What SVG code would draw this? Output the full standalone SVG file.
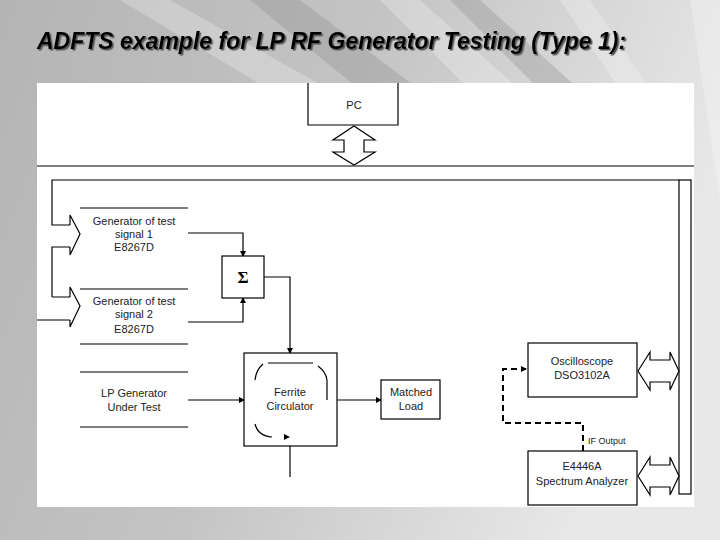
<svg xmlns="http://www.w3.org/2000/svg" width="720" height="540" viewBox="0 0 720 540">
<defs>
<linearGradient id="bg" x1="0" y1="0" x2="1" y2="0.3"><stop offset="0" stop-color="#b4b4b4"/><stop offset="0.5" stop-color="#c4c4c4"/><stop offset="1" stop-color="#e8e8e8"/></linearGradient>
<filter id="sh"><feDropShadow dx="1.5" dy="1.5" stdDeviation="0.5" flood-color="#555"/></filter>
<marker id="ar" markerWidth="6" markerHeight="6" refX="5" refY="3" orient="auto" markerUnits="userSpaceOnUse"><path d="M0,0 L6,3 L0,6 z" fill="#000"/></marker>
<style>
.l{fill:none;stroke:#000;stroke-width:1.2}
.b{fill:#fff;stroke:#000;stroke-width:1.2}
.t{font-family:"Liberation Sans",Arial,sans-serif;font-size:11px;fill:#222;text-anchor:middle}
</style>
</defs>
<rect width="720" height="540" fill="url(#bg)"/>
<g fill="#fff" opacity="0.25">
<polygon points="120,0 170,0 330,90 270,90"/><polygon points="380,0 420,0 520,90 470,90"/><polygon points="560,0 590,0 650,90 620,90"/><polygon points="690,0 720,0 720,200"/>
</g>
<g fill="#888" opacity="0.3"><polygon points="250,0 300,0 420,90 360,90"/><polygon points="450,0 480,0 580,90 540,90"/></g>
<text x="37" y="49" filter="url(#sh)" font-family="Liberation Sans,Arial,sans-serif" font-size="23" font-weight="bold" font-style="italic" fill="#000">ADFTS example for LP RF Generator Testing (Type 1):</text>
<rect x="37" y="83" width="657" height="424" fill="#fff"/>
<g id="connectors">
<line class="l" x1="37" y1="166" x2="694" y2="166"/>
<polyline class="l" points="679,180 52,180 52,225 70,225"/>
<polyline class="l" points="52,297 52,247 70,247"/>
<path class="l" d="M52,297 H70 M37,320 H70"/>
<polyline class="l" points="188,233 243,233 243,256" marker-end="url(#ar)"/>
<polyline class="l" points="188,322 243,322 243,298" marker-end="url(#ar)"/>
<polyline class="l" points="264,277 290,277 290,353" marker-end="url(#ar)"/>
<line class="l" x1="188" y1="400" x2="244" y2="400" marker-end="url(#ar)"/>
<line class="l" x1="337" y1="400" x2="381" y2="400" marker-end="url(#ar)"/>
<line class="l" x1="290" y1="446" x2="290" y2="477"/>
<polyline fill="none" stroke="#000" stroke-width="2" stroke-dasharray="6,4" points="583,451 583,423 503,423 503,369 526,369" marker-end="url(#ar)"/>
<text x="588" y="444" class="t" style="font-size:9px;text-anchor:start">IF Output</text>
</g>
<g id="pc"><polyline class="l" points="308,83 308,125 398,125 398,83"/><text class="t" x="354" y="109">PC</text>
<polygon class="b" points="354,126 375,140 364,140 364,152 375,152 354,165 333,152 344,152 344,140 333,140"/></g>
<g id="bus"><rect class="b" x="679" y="180" width="12" height="314"/></g>
<g id="gen1"><path class="l" d="M70,225 V215 L80,234 L70,255 V247"/><line class="l" x1="80" y1="208" x2="188" y2="208"/>
<text class="t" x="134" y="225">Generator of test</text><text class="t" x="134" y="238">signal 1</text><text class="t" x="134" y="251">E8267D</text></g>
<g id="gen2"><path class="l" d="M70,297 V287 L80,306 L70,327 V320"/><line class="l" x1="80" y1="289" x2="188" y2="289"/><line class="l" x1="80" y1="344" x2="188" y2="344"/>
<text class="t" x="134" y="305">Generator of test</text><text class="t" x="134" y="318">signal 2</text><text class="t" x="134" y="333">E8267D</text></g>
<g id="rfgen"><line class="l" x1="80" y1="372" x2="188" y2="372"/><line class="l" x1="80" y1="427" x2="188" y2="427"/>
<text class="t" x="134" y="397">LP Generator</text><text class="t" x="134" y="411">Under Test</text></g>
<g id="sum"><rect class="b" x="222" y="256" width="42" height="42"/><text x="243" y="283" text-anchor="middle" font-family="Liberation Serif,serif" font-size="17" font-weight="bold">Σ</text></g>
<g id="circ"><rect class="b" x="244" y="353" width="93" height="93"/>
<path class="l" d="M268,363 H313 M318,366 Q326,372 327,380 V400 M263,364 Q256,370 255,380 M255,424 Q258,436 272,437"/><path d="M284,434 L290,437 L284,440z" fill="#000"/>
<text class="t" x="290" y="396">Ferrite</text><text class="t" x="290" y="410">Circulator</text></g>
<g id="load"><rect class="b" x="381" y="380" width="59" height="39"/><text class="t" x="411" y="396">Matched</text><text class="t" x="411" y="410">Load</text></g>
<g id="scope"><rect class="b" x="528" y="343" width="109" height="54"/><text class="t" x="582" y="365">Oscilloscope</text><text class="t" x="582" y="379">DSO3102A</text>
<polygon class="b" points="638,371 650,352 650,360 670,360 670,352 679,371 670,390 670,382 650,382 650,390"/></g>
<g id="sa"><rect class="b" x="528" y="451" width="109" height="54"/><text class="t" x="582" y="470">E4446A</text><text class="t" x="582" y="485">Spectrum Analyzer</text>
<polygon class="b" points="638,476 650,457 650,465 670,465 670,457 679,476 670,495 670,487 650,487 650,495"/></g>
</svg>
